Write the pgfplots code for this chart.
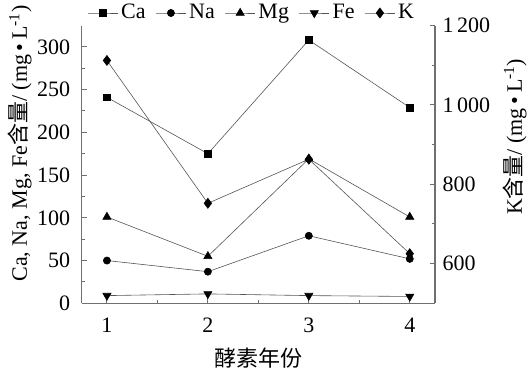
\documentclass[border=0pt]{standalone}
\usepackage{pgfplots}
\pgfplotsset{compat=1.18}
\usepackage{fontspec}
\setmainfont{Liberation Serif}
\newfontfamily\cjk{Noto Sans CJK SC}
\newfontfamily\tnr{Liberation Serif}
\definecolor{ln}{HTML}{555555}
\definecolor{axc}{HTML}{707070}

\begin{document}
\fontsize{22}{26}\selectfont
\begin{tikzpicture}[font=\tnr\fontsize{22}{26}\selectfont]
\useasboundingbox (-81.7pt,-66.7pt) rectangle (445.3pt,303.3pt);
\pgfplotsset{
  every axis/.append style={
    scale only axis, width=353.3pt, height=277.8pt,
    xmin=0.75, xmax=4.25,
    tick align=inside, major tick length=5pt, minor tick length=3pt,
    axis line style={axc, line width=1.2pt},
    tick style={axc, line width=1pt},
    /pgf/number format/assume math mode=true,
    every tick label/.append style={font=\tnr\fontsize{22}{26}\selectfont},
  },
  legend image code/.code={\draw[mark repeat=2,mark phase=2,#1] plot coordinates {(0pt,0pt) (15pt,0pt) (30pt,0pt)};},
}
\begin{axis}[
  axis x line*=bottom, axis y line*=left,
  ymin=0, ymax=325,
  xtick={1,2,3,4}, xticklabels={1,2,3,4}, minor xtick={1.5,2.5,3.5},
  ytick={0,50,100,150,200,250,300}, yticklabels={0,50,100,150,200,250,300},
  minor ytick={25,75,125,175,225,275},
  xticklabel style={yshift=-7pt},
  yticklabel style={xshift=-4pt},
  xlabel={\cjk 酵素年份},
  every axis x label/.style={at={(axis description cs:0.5,-0.198)}, anchor=center},
  ylabel={Ca, Na, Mg, Fe{\cjk 含量}/ (mg\,•\,L\textsuperscript{-1})},
  every axis y label/.style={at={(axis description cs:-0.175,0.575)}, anchor=center, rotate=90},
  legend columns=-1,
  legend style={draw=none, fill=none, at={(axis description cs:0.483,1.045)}, anchor=center,
    inner sep=0pt, font=\tnr\fontsize{22}{26}\selectfont,
    nodes={inner sep=3pt},
    /tikz/every even column/.append style={column sep=7pt}},
]
\addplot[ln, line width=0.6pt, mark=square*, mark options={black, mark size=3.3pt}] coordinates {(1,241) (2,175) (3,308) (4,229)};
\addlegendentry{Ca}
\addplot[ln, line width=0.6pt, mark=*, mark options={black, mark size=3.6pt}] coordinates {(1,50) (2,37) (3,79) (4,52)};
\addlegendentry{Na}
\addplot[ln, line width=0.6pt, mark=triangle*, mark options={black, mark size=4.7pt}] coordinates {(1,101) (2,55) (3,169) (4,101)};
\addlegendentry{Mg}
\addplot[ln, line width=0.6pt, mark=triangle*, mark options={black, rotate=180, mark size=4.7pt}] coordinates {(1,9) (2,11) (3,9) (4,8)};
\addlegendentry{Fe}
\addlegendimage{ln, line width=0.6pt, mark=diamond*, mark options={black, mark size=5pt}}
\addlegendentry{K}
\end{axis}
\begin{axis}[
  axis y line*=right, axis x line=none,
  ymin=500, ymax=1200,
  ytick={600,800,1000,1200}, yticklabels={600,800,1\,000,1\,200},
  minor ytick={700,900,1100},
  ylabel={K{\cjk 含量}/ (mg\,•\,L\textsuperscript{-1})},
  every axis y label/.style={at={(axis description cs:1.226,0.599)}, anchor=center, rotate=90},
]
\addplot[ln, line width=0.6pt, mark=diamond*, mark options={black, mark size=5pt}] coordinates {(1,1112) (2,752) (3,863) (4,625)};
\end{axis}
\end{tikzpicture}
\end{document}
